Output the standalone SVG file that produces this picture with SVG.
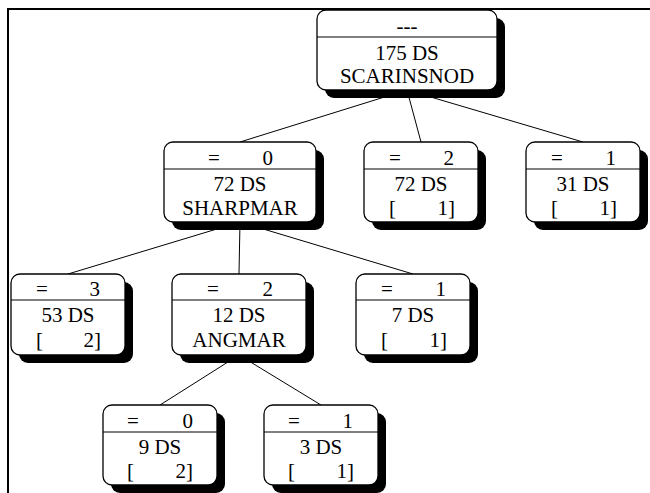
<svg xmlns="http://www.w3.org/2000/svg" width="650" height="493" viewBox="0 0 650 493" font-family="'Liberation Serif', 'Times New Roman', 'DejaVu Serif', serif" font-size="21">
<style>
.sh{fill:#000}
.bx{fill:#fff;stroke:#000;stroke-width:1.3}
.dv{stroke:#000;stroke-width:1}
.e{stroke:#000;stroke-width:1;fill:none}
text{font-family:'Liberation Serif','Times New Roman','DejaVu Serif',serif;font-size:21px;fill:#000}
.m{text-anchor:middle}
.s{text-anchor:start}
.r{text-anchor:end}
</style>
<rect width="650" height="493" fill="#fff"/>
<path d="M8,493 V9 H650" fill="none" stroke="#000" stroke-width="2"/>
<g id="connectors">
<line class="e" x1="407" y1="90" x2="240" y2="142"/>
<line class="e" x1="407" y1="90" x2="421" y2="142"/>
<line class="e" x1="407" y1="90" x2="583" y2="142"/>
<line class="e" x1="240" y1="222" x2="68" y2="274"/>
<line class="e" x1="240" y1="222" x2="239" y2="274"/>
<line class="e" x1="240" y1="222" x2="413" y2="274"/>
<line class="e" x1="239" y1="355" x2="160" y2="405"/>
<line class="e" x1="239" y1="355" x2="321" y2="405"/>
</g>
<g id="root">
<rect class="sh" x="325" y="18" width="180" height="80" rx="9"/>
<rect class="bx" x="317" y="10" width="180" height="80" rx="9"/>
<line class="dv" x1="317" y1="37" x2="497" y2="37"/>
<text class="m" x="407" y="33">---</text>
<text class="m" x="407" y="60">175 DS</text>
<text class="m" x="407" y="83">SCARINSNOD</text>
</g>
<g id="n_sharpmar">
<rect class="sh" x="172" y="150" width="152" height="80" rx="9"/>
<rect class="bx" x="164" y="142" width="152" height="80" rx="9"/>
<line class="dv" x1="164" y1="169" x2="316" y2="169"/>
<text class="s" x="208" y="165">=</text><text class="r" x="273" y="165">0</text>
<text class="m" x="240" y="191">72 DS</text>
<text class="m" x="240" y="215">SHARPMAR</text>
</g>
<g id="n_72ds">
<rect class="sh" x="372" y="150" width="114" height="80" rx="9"/>
<rect class="bx" x="364" y="142" width="114" height="80" rx="9"/>
<line class="dv" x1="364" y1="169" x2="478" y2="169"/>
<text class="s" x="389" y="165">=</text><text class="r" x="454" y="165">2</text>
<text class="m" x="421" y="191">72 DS</text>
<text class="s" x="389" y="215">[</text><text class="r" x="455" y="215">1]</text>
</g>
<g id="n_31ds">
<rect class="sh" x="534" y="150" width="114" height="80" rx="9"/>
<rect class="bx" x="526" y="142" width="114" height="80" rx="9"/>
<line class="dv" x1="526" y1="169" x2="640" y2="169"/>
<text class="s" x="551" y="165">=</text><text class="r" x="616" y="165">1</text>
<text class="m" x="583" y="191">31 DS</text>
<text class="s" x="551" y="215">[</text><text class="r" x="617" y="215">1]</text>
</g>
<g id="n_53ds">
<rect class="sh" x="19" y="282" width="114" height="81" rx="9"/>
<rect class="bx" x="11" y="274" width="114" height="81" rx="9"/>
<line class="dv" x1="11" y1="300" x2="125" y2="300"/>
<text class="s" x="36" y="296">=</text><text class="r" x="100" y="296">3</text>
<text class="m" x="68" y="322">53 DS</text>
<text class="s" x="36" y="347">[</text><text class="r" x="101" y="347">2]</text>
</g>
<g id="n_angmar">
<rect class="sh" x="180" y="282" width="134" height="81" rx="9"/>
<rect class="bx" x="172" y="274" width="134" height="81" rx="9"/>
<line class="dv" x1="172" y1="300" x2="306" y2="300"/>
<text class="s" x="207" y="296">=</text><text class="r" x="273" y="296">2</text>
<text class="m" x="239" y="322">12 DS</text>
<text class="m" x="239" y="347">ANGMAR</text>
</g>
<g id="n_7ds">
<rect class="sh" x="364" y="282" width="114" height="81" rx="9"/>
<rect class="bx" x="356" y="274" width="114" height="81" rx="9"/>
<line class="dv" x1="356" y1="300" x2="470" y2="300"/>
<text class="s" x="381" y="296">=</text><text class="r" x="446" y="296">1</text>
<text class="m" x="413" y="322">7 DS</text>
<text class="s" x="381" y="347">[</text><text class="r" x="447" y="347">1]</text>
</g>
<g id="n_9ds">
<rect class="sh" x="111" y="413" width="114" height="80" rx="9"/>
<rect class="bx" x="103" y="405" width="114" height="80" rx="9"/>
<line class="dv" x1="103" y1="432" x2="217" y2="432"/>
<text class="s" x="127" y="428">=</text><text class="r" x="193" y="428">0</text>
<text class="m" x="160" y="454">9 DS</text>
<text class="s" x="127" y="478">[</text><text class="r" x="193" y="478">2]</text>
</g>
<g id="n_3ds">
<rect class="sh" x="272" y="413" width="114" height="80" rx="9"/>
<rect class="bx" x="264" y="405" width="114" height="80" rx="9"/>
<line class="dv" x1="264" y1="432" x2="378" y2="432"/>
<text class="s" x="288" y="428">=</text><text class="r" x="353" y="428">1</text>
<text class="m" x="321" y="454">3 DS</text>
<text class="s" x="288" y="478">[</text><text class="r" x="354" y="478">1]</text>
</g>
</svg>
